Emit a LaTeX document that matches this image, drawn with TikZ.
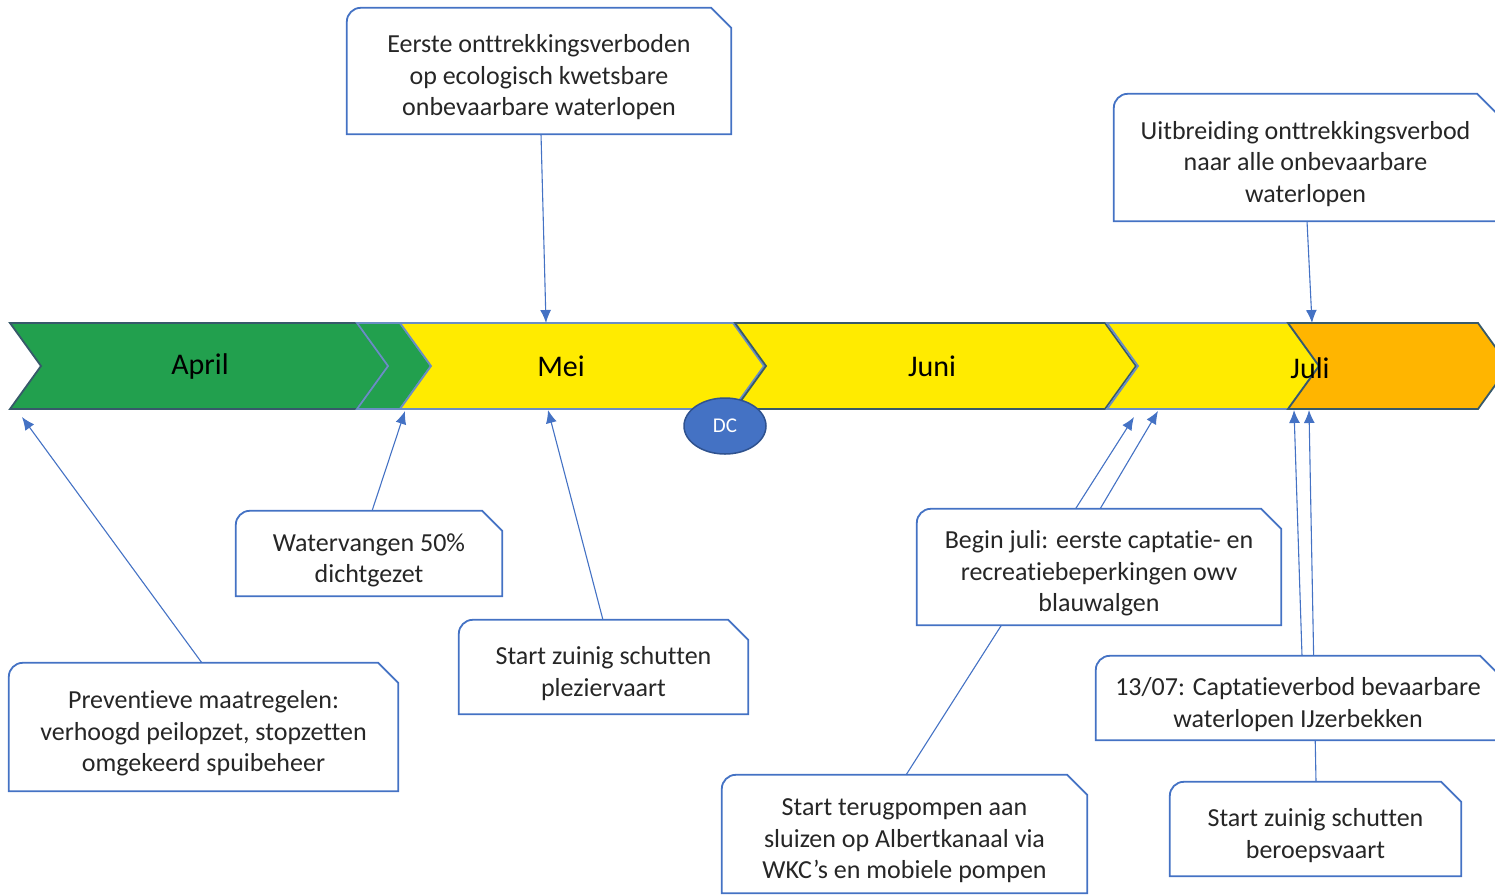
\documentclass[tikz,border=0pt]{standalone}
\usepackage{fontspec}
\setmainfont{Carlito}[Ligatures=NoCommon]
\usepackage{tikz}
\usetikzlibrary{shapes.geometric}
\usetikzlibrary{arrows.meta}
\definecolor{april_green}{HTML}{22A04E}
\definecolor{month_yellow}{HTML}{FFEB00}
\definecolor{juli_orange}{HTML}{FFB500}
\definecolor{dark_edge}{HTML}{37596A}
\definecolor{light_edge}{HTML}{6A8EC4}
\definecolor{office_blue}{HTML}{4472C4}
\definecolor{dc_edge}{HTML}{2F528F}
\definecolor{text_dark}{HTML}{262626}
\tikzset{
  month_arrow/.style = {line width=1.8pt, line join=miter},% pijl van de tijdlijn
  month_label/.style = {font=\fontsize{30}{32}\selectfont, text=black},
  callout_box/.style = {rectangle, inner sep=0pt, align=center, fill=white,
    text=text_dark, font=\fontsize{26}{31.5}\selectfont},% tekstvak
  callout_line/.style = {draw=office_blue, line width=1.8pt},% rand tekstvak
  pointer/.style = {draw=office_blue, line width=1.1pt,
    -{Latex[length=13pt,width=11pt]}},% verbindingslijn
  dc_node/.style = {ellipse, fill=office_blue, draw=dc_edge, line width=1.5pt,
    minimum width=82pt, minimum height=56pt, text=white,
    font=\fontsize{21}{23}\selectfont}
}
% extra ruimte boven de eerste regel, tekst iets lager in het vak
\newcommand{\topstrut}{\rule{0pt}{31pt}}
% rand met afgeronde hoek links en afgeknipte hoek rechts
\newcommand{\calloutframe}[1]{%
  \draw[callout_line] (#1.south west) -- ([yshift=-14pt]#1.north west)
    arc[start angle=180, end angle=90, radius=14pt]
    -- ([xshift=-20pt]#1.north east) -- ([yshift=-20pt]#1.north east)
    -- (#1.south east) -- cycle;}

\begin{document}
\begin{tikzpicture}[x=1pt, y=1pt]
  \useasboundingbox (0,0) rectangle (1495,-895);
  \clip (0,0) rectangle (1495,-895);

  % tijdlijn
  \draw[month_arrow, fill=april_green, draw=dark_edge]
    (10,-323) -- (357,-323) -- (388,-366) -- (357,-409) -- (10,-409) -- (41,-366) -- cycle;
  \draw[month_arrow, fill=april_green, draw=light_edge]
    (357,-323) -- (400,-323) -- (431,-366) -- (400,-409) -- (357,-409) -- (388,-366) -- cycle;
  \draw[month_arrow, fill=month_yellow, draw=light_edge]
    (400,-323) -- (733,-323) -- (764,-366) -- (733,-409) -- (400,-409) -- (431,-366) -- cycle;
  \draw[month_arrow, fill=month_yellow, draw=dark_edge]
    (735,-323) -- (1105,-323) -- (1136,-366) -- (1105,-409) -- (735,-409) -- (766,-366) -- cycle;
  \draw[month_arrow, fill=month_yellow, draw=light_edge]
    (1107,-323) -- (1288,-323) -- (1319,-366) -- (1288,-409) -- (1107,-409) -- (1138,-366) -- cycle;
  \draw[month_arrow, fill=juli_orange, draw=dark_edge]
    (1288,-323) -- (1478,-323) -- (1509,-366) -- (1478,-409) -- (1288,-409) -- (1319,-366) -- cycle;

  \node[month_label] (april) at (200,-366) {April};
  \node[month_label] (mei) at (561,-366) {Mei};
  \node[month_label] (juni) at (932,-366) {Juni};
  \node[month_label] (juli) at (1310,-368) {Juli};
  \node[dc_node] (dc) at (725,-426) {DC};

  % aangrijpingspunten op de tijdlijn
  \coordinate (p_eerste) at (546,-323);
  \coordinate (p_uitbreiding) at (1312,-323);
  \coordinate (p_preventief) at (22,-417);
  \coordinate (p_watervang) at (405,-411);
  \coordinate (p_plezier) at (548,-410);
  \coordinate (p_beginjuli) at (1158,-411);
  \coordinate (p_terugpomp) at (1134,-417);
  \coordinate (p_captatie) at (1294,-410);
  \coordinate (p_beroeps) at (1309,-410);

  % startpunten van de verbindingslijnen
  \coordinate (s_eerste) at (541,-134);
  \coordinate (s_uitbreiding) at (1307,-221);
  \coordinate (s_preventief) at (202,-663);
  \coordinate (s_watervang) at (372,-511);
  \coordinate (s_plezier) at (603,-620);
  \coordinate (s_beginjuli) at (1100,-509);
  \coordinate (s_terugpomp) at (906,-775);
  \coordinate (s_captatie) at (1302,-656);
  \coordinate (s_beroeps) at (1316,-782);

  \draw[pointer] (s_eerste) -- (p_eerste);
  \draw[pointer] (s_uitbreiding) -- (p_uitbreiding);
  \draw[pointer] (s_preventief) -- (p_preventief);
  \draw[pointer] (s_watervang) -- (p_watervang);
  \draw[pointer] (s_plezier) -- (p_plezier);
  \draw[pointer] (s_beginjuli) -- (p_beginjuli);
  \draw[pointer] (s_terugpomp) -- (p_terugpomp);
  \draw[pointer] (s_captatie) -- (p_captatie);
  \draw[pointer] (s_beroeps) -- (p_beroeps);

  % tekstvakken
  \node[callout_box, minimum width=384pt, minimum height=126pt] (eerste) at (539,-71)
    {\topstrut Eerste onttrekkingsverboden\\op ecologisch kwetsbare\\onbevaarbare waterlopen};
  \node[callout_box, minimum width=383pt, minimum height=127pt] (uitbreiding) at (1305.5,-157.5)
    {\topstrut Uitbreiding onttrekkingsverbod\\naar alle onbevaarbare\\waterlopen};
  \node[callout_box, minimum width=266pt, minimum height=85pt] (watervang) at (369,-553.5)
    {\topstrut Watervangen 50\%\\dichtgezet};
  \node[callout_box, minimum width=389pt, minimum height=128pt] (preventief) at (203.5,-727)
    {\topstrut Preventieve maatregelen:\\verhoogd peilopzet, stopzetten\\omgekeerd spuibeheer};
  \node[callout_box, minimum width=289pt, minimum height=94pt] (plezier) at (603.5,-667)
    {\topstrut Start zuinig schutten\\pleziervaart};
  \node[callout_box, minimum width=364pt, minimum height=116pt] (beginjuli) at (1099,-567)
    {\topstrut Begin juli: eerste captatie- en\\recreatiebeperkingen owv\\blauwalgen};
  \node[callout_box, minimum width=404pt, minimum height=84pt] (captatie) at (1298,-698)
    {\topstrut 13/07: Captatieverbod bevaarbare\\waterlopen IJzerbekken};
  \node[callout_box, minimum width=365pt, minimum height=118pt] (terugpomp) at (904.5,-834)
    {\topstrut Start terugpompen aan\\sluizen op Albertkanaal via\\WKC’s en mobiele pompen};
  \node[callout_box, minimum width=291pt, minimum height=94pt] (beroeps) at (1315.5,-829)
    {\topstrut Start zuinig schutten\\beroepsvaart};

  \calloutframe{eerste}
  \calloutframe{uitbreiding}
  \calloutframe{watervang}
  \calloutframe{preventief}
  \calloutframe{plezier}
  \calloutframe{beginjuli}
  \calloutframe{captatie}
  \calloutframe{terugpomp}
  \calloutframe{beroeps}
\end{tikzpicture}
\end{document}
